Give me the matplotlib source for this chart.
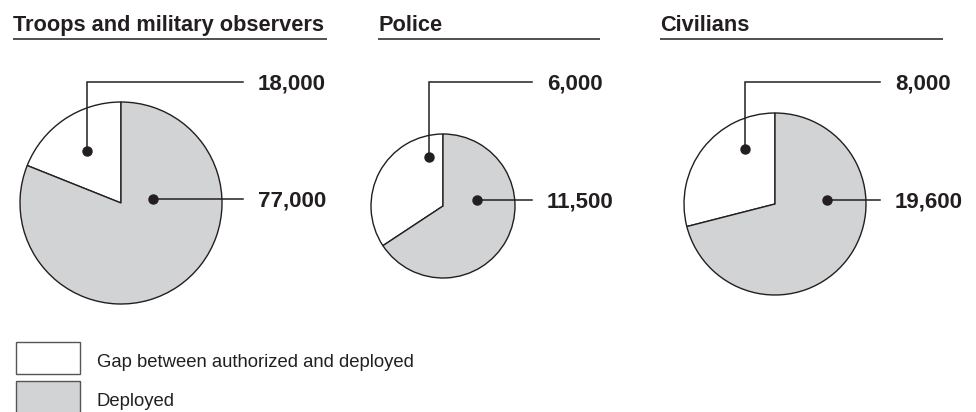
import numpy as np
import matplotlib
matplotlib.use("Agg")
import matplotlib.pyplot as plt
from matplotlib.patches import Rectangle

plt.rcParams['font.family'] = ['Liberation Sans', 'DejaVu Sans']

# data
categories = ["Troops and military observers", "Police", "Civilians"]
gap = [18000, 6000, 8000]
deployed = [77000, 11500, 19600]
gap_labels = ["18,000", "6,000", "8,000"]
deployed_labels = ["77,000", "11,500", "19,600"]
legend_labels = ["Gap between authorized and deployed", "Deployed"]

# layout (pixels, y measured from the top of the picture)
W, H = 976, 412
centers = [(121, 203), (443, 206), (775, 204)]
radii = [101, 72, 91]
title_x = [13, 378, 660]
rule_end = [327, 600, 943]
line_end = [243, 532, 880]
label_gap = 15
label_row = 82
# callout dots: (fraction of wedge sweep, fraction of radius)
gap_dot = [(0.49, 0.62), (0.13, 0.71), (0.27, 0.69)]
dep_dot = [(0.285, 0.32), (0.34, 0.48), (0.336, 0.57)]

INK = '#231f20'
GREY = '#d1d3d4'


def Y(y):
    return H - y


fig = plt.figure(figsize=(W / 100, H / 100), dpi=100)
ax = fig.add_axes([0, 0, 1, 1])

for i, name in enumerate(categories):
    cx, cy = centers[i]
    r = radii[i]
    total = gap[i] + deployed[i]
    g = gap[i] / total

    ax.pie([gap[i], deployed[i]], colors=['white', GREY], startangle=90,
           counterclock=True, center=(cx, Y(cy)), radius=r,
           wedgeprops=dict(edgecolor=INK, linewidth=1.0))

    # title with rule underneath
    ax.text(title_x[i], Y(31), name, fontsize=15.7, fontweight='bold',
            color=INK, ha='left', va='baseline')
    ax.plot([title_x[i], rule_end[i]], [Y(39), Y(39)], color=INK, lw=1.1,
            solid_capstyle='butt')

    # gap callout
    a = np.deg2rad(90 + gap_dot[i][0] * g * 360)
    gx = cx + gap_dot[i][1] * r * np.cos(a)
    gy = Y(cy) + gap_dot[i][1] * r * np.sin(a)
    ax.plot([gx, gx, line_end[i]], [gy, Y(label_row), Y(label_row)],
            color=INK, lw=1.1, solid_joinstyle='miter')
    ax.plot(gx, gy, 'o', color=INK, ms=6.5)
    ax.text(line_end[i] + label_gap, Y(label_row + 7), gap_labels[i],
            fontsize=16, fontweight='bold', color=INK, ha='left',
            va='baseline')

    # deployed callout
    b = np.deg2rad(90 - dep_dot[i][0] * (1 - g) * 360)
    dx = cx + dep_dot[i][1] * r * np.cos(b)
    dy = Y(cy) + dep_dot[i][1] * r * np.sin(b)
    ax.plot([dx, line_end[i]], [dy, dy], color=INK, lw=1.1)
    ax.plot(dx, dy, 'o', color=INK, ms=6.5)
    ax.text(line_end[i] + label_gap, dy - 7, deployed_labels[i],
            fontsize=16, fontweight='bold', color=INK, ha='left',
            va='baseline')

# legend
for k, (lab, fc) in enumerate(zip(legend_labels, ['white', GREY])):
    top = 342 + k * 39
    ax.add_patch(Rectangle((16, Y(top + 32)), 64, 32, facecolor=fc,
                           edgecolor='#555555', lw=1.0))
    ax.text(97, Y(top + 25), lab, fontsize=13.3, color=INK, ha='left',
            va='baseline')

ax.set_xlim(0, W)
ax.set_ylim(0, H)
ax.set_aspect('equal')
ax.axis('off')

fig.savefig('out.png', dpi=100)
